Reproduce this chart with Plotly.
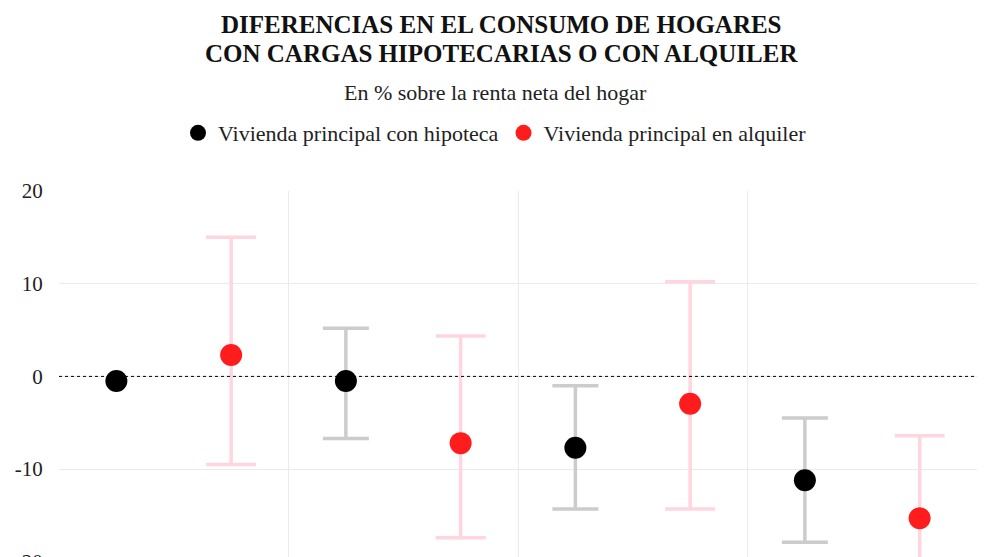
import plotly.graph_objects as go

# ---- data ----
groups = ["Grupo 1", "Grupo 2", "Grupo 3", "Grupo 4"]
hipoteca = [-0.5, -0.5, -7.7, -11.2]
hipoteca_max = [None, 5.2, -1.0, -4.5]
hipoteca_min = [None, -6.7, -14.3, -17.9]
alquiler = [2.3, -7.2, -2.95, -15.3]
alquiler_max = [15.0, 4.35, 10.2, -6.4]
alquiler_min = [-9.5, -17.4, -14.3, -24.0]
y_ticks = [20, 10, 0, -10, -20]
y_tick_text = ["20", "10", "0", "-10", "-20"]

name_hip = "Vivienda principal con hipoteca"
name_alq = "Vivienda principal en alquiler"
title_lines = ["DIFERENCIAS EN EL CONSUMO DE HOGARES", "CON CARGAS HIPOTECARIAS O CON ALQUILER"]
subtitle = "En % sobre la renta neta del hogar"

FONT = "Liberation Serif"
BLACK, GREY = "#000000", "#cccccc"
RED, PINK = "#ff1c1c", "#ffd6e0"

# page offset of the plot div inside the browser body (default 8px margin)
OFF = 8
W, H = 990, 557
ML, MR, MT, MB = 59 - OFF, 21, 191 - OFF, 0
PW, PH = W - ML - MR, H - MT - MB
PX_PER_UNIT = 9.27


def py_paper(py_window):
    return (H - MB - (py_window - OFF)) / PH


def px_paper(px_window):
    return ((px_window - OFF) - ML) / PW


fig = go.Figure()


def add_series(offset, values, vmax, vmin, color, ecolor, capw):
    xs = [i + offset for i in range(len(values))]
    with_x, with_y, e_up, e_dn, no_x, no_y = [], [], [], [], [], []
    for x, v, hi, lo in zip(xs, values, vmax, vmin):
        if hi is None or lo is None:
            no_x.append(x)
            no_y.append(v)
        else:
            with_x.append(x)
            with_y.append(v)
            e_up.append(hi - v)
            e_dn.append(v - lo)
    fig.add_trace(go.Scatter(
        x=with_x, y=with_y, mode="markers", showlegend=False,
        marker=dict(color=color, size=22),
        error_y=dict(type="data", symmetric=False, array=e_up, arrayminus=e_dn,
                     color=ecolor, thickness=3.5, width=capw),
        cliponaxis=False,
    ))
    if no_x:
        fig.add_trace(go.Scatter(x=no_x, y=no_y, mode="markers", showlegend=False,
                                 marker=dict(color=color, size=22), cliponaxis=False))


add_series(0.25, hipoteca, hipoteca_max, hipoteca_min, BLACK, GREY, 23)
add_series(0.75, alquiler, alquiler_max, alquiler_min, RED, PINK, 25)

# legend entries
fig.add_trace(go.Scatter(x=[None], y=[None], mode="markers", name=name_hip,
                         marker=dict(color=BLACK, size=22)))
fig.add_trace(go.Scatter(x=[None], y=[None], mode="markers", name=name_alq,
                         marker=dict(color=RED, size=22)))

fig.add_shape(type="line", xref="paper", x0=0, x1=1, yref="y", y0=0, y1=0,
              line=dict(color="#000000", width=1, dash="dot"), layer="above")

for txt, yc in zip(title_lines, [24, 53]):
    fig.add_annotation(text="<b>" + txt + "</b>", xref="paper", yref="paper",
                       x=px_paper(W / 2 + OFF - 2), y=py_paper(yc),
                       xanchor="center", yanchor="middle", showarrow=False,
                       font=dict(family=FONT, size=25, color="#111111"))
fig.add_annotation(text=subtitle, xref="paper", yref="paper",
                   x=px_paper(W / 2), y=py_paper(92), xanchor="center", yanchor="middle",
                   showarrow=False, font=dict(family=FONT, size=22, color="#222222"))

fig.update_layout(
    width=W, height=H,
    margin=dict(l=ML, r=MR, t=MT, b=MB, autoexpand=False),
    paper_bgcolor="white", plot_bgcolor="white",
    font=dict(family=FONT, size=20, color="#222222"),
    showlegend=True,
    legend=dict(orientation="h", xref="paper", yref="paper",
                x=px_paper(W / 2), xanchor="center", y=py_paper(133), yanchor="middle",
                font=dict(family=FONT, size=22, color="#222222"),
                itemsizing="trace", traceorder="normal"),
    xaxis=dict(range=[0, len(groups)], tickvals=list(range(len(groups) + 1)),
               showticklabels=False, showgrid=True, gridcolor="#ebebeb", gridwidth=1,
               zeroline=False, showline=False, fixedrange=True, automargin=False),
    yaxis=dict(range=[20 - PH / PX_PER_UNIT, 20], tickvals=y_ticks, ticktext=y_tick_text,
               showgrid=True, gridcolor="#ebebeb", gridwidth=1, zeroline=False,
               ticks="outside", ticklen=0, ticklabelstandoff=11, ticklabeloverflow="allow",
               automargin=False,
               tickfont=dict(family=FONT, size=21, color="#222222"), fixedrange=True),
)

fig.write_html("out.html")
